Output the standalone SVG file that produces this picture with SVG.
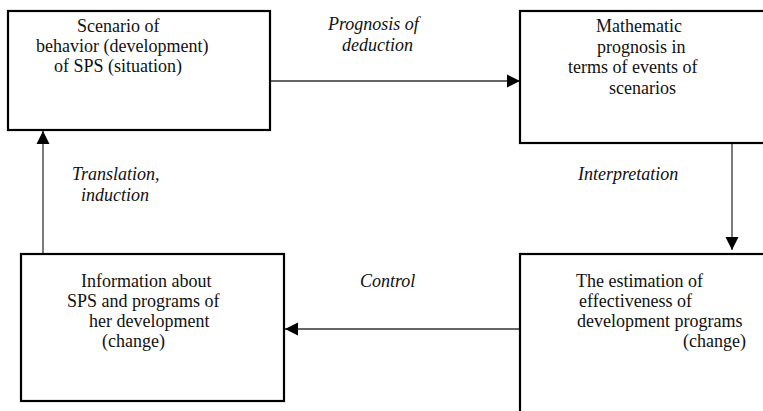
<svg xmlns="http://www.w3.org/2000/svg" width="763" height="411" viewBox="0 0 763 411">
<style>
.box{fill:#fff;stroke:#000;stroke-width:2.2}
.t{font-family:'Liberation Serif','Times New Roman',serif;font-size:18px;fill:#111}
.lbl{font-family:'Liberation Serif','Times New Roman',serif;font-size:18px;font-style:italic;fill:#111}
.ln{stroke:#333;stroke-width:1.3;fill:none}
</style>
<defs>
<marker id="ah" markerUnits="userSpaceOnUse" markerWidth="14" markerHeight="14" refX="13" refY="7" orient="auto">
<path d="M0,0.5 L13,7 L0,13.5 z" fill="#000"/>
</marker>
</defs>
<rect width="763" height="411" fill="#fff"/>
<g id="connectors">
<line class="ln" x1="271" y1="81" x2="520" y2="81" marker-end="url(#ah)"/>
<line class="ln" x1="732" y1="143" x2="732" y2="250" marker-end="url(#ah)"/>
<line class="ln" x1="520" y1="329" x2="285" y2="329" marker-end="url(#ah)"/>
<line class="ln" x1="43" y1="254" x2="43" y2="131" marker-end="url(#ah)"/>
<g id="label-prognosis">
<text class="lbl" x="328" y="30">Prognosis of</text>
<text class="lbl" x="342" y="51">deduction</text>
</g>
<g id="label-interpretation">
<text class="lbl" x="578" y="180">Interpretation</text>
</g>
<g id="label-control">
<text class="lbl" x="360" y="287">Control</text>
</g>
<g id="label-translation">
<text class="lbl" x="72" y="180">Translation,</text>
<text class="lbl" x="81" y="201">induction</text>
</g>
</g>
<g id="node-scenario">
<rect class="box" x="8" y="11" width="262" height="119"/>
<text class="t" x="77" y="32">Scenario of</text>
<text class="t" x="36" y="52">behavior (development)</text>
<text class="t" x="54" y="72">of SPS (situation)</text>
</g>
<g id="node-mathematic">
<rect class="box" x="520" y="11" width="260" height="132"/>
<text class="t" x="596" y="32">Mathematic</text>
<text class="t" x="597" y="53">prognosis in</text>
<text class="t" x="568" y="73">terms of events of</text>
<text class="t" x="609" y="94">scenarios</text>
</g>
<g id="node-information">
<rect class="box" x="21" y="254" width="263" height="147"/>
<text class="t" x="81" y="287">Information about</text>
<text class="t" x="67" y="307">SPS and programs of</text>
<text class="t" x="89" y="327">her development</text>
<text class="t" x="102" y="347">(change)</text>
</g>
<g id="node-estimation">
<rect class="box" x="520" y="254" width="260" height="170"/>
<text class="t" x="576" y="287">The estimation of</text>
<text class="t" x="579" y="307">effectiveness of</text>
<text class="t" x="577" y="327">development programs</text>
<text class="t" x="683" y="347">(change)</text>
</g>
</svg>
